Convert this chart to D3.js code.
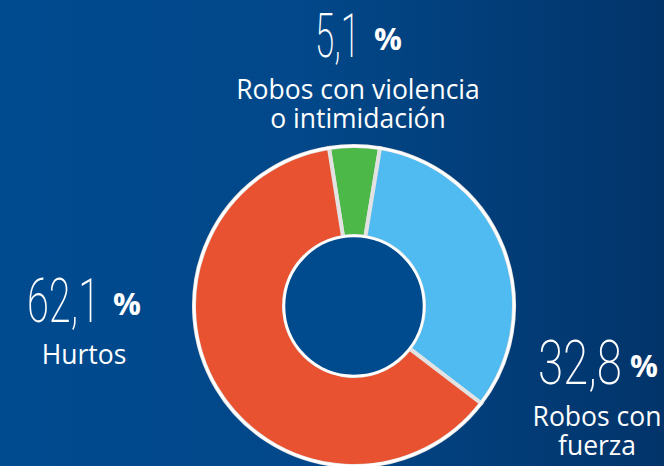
<!DOCTYPE html>
<html>
<head>
<meta charset="utf-8">
<script src="https://cdn.jsdelivr.net/npm/d3@7"></script>
<style>
  html, body { margin: 0; padding: 0; background: #02417f; }
  svg { display: block; }
</style>
</head>
<body>
<div id="chart"></div>
<script>
// data, in drawing order (clockwise from top)
var categories = ["Robos con violencia o intimidación", "Robos con fuerza", "Hurtos"];
var shares = [5.1, 32.8, 62.1];
var shareLabels = ["5,1", "32,8", "62,1"];
var labelLines = [["Robos con violencia", "o intimidación"], ["Robos con", "fuerza"], ["Hurtos"]];
var colors = ["#4cb848", "#50bbf1", "#e85230"];

var width = 664, height = 466;
var cx = 354, cy = 306, outerR = 160, innerR = 70;

var svg = d3.select("#chart").append("svg")
    .attr("width", width)
    .attr("height", height);

// background gradient
var grad = svg.append("defs").append("linearGradient")
    .attr("id", "bg")
    .attr("x1", "0%").attr("x2", "100%")
    .attr("y1", "0%").attr("y2", "0%");
grad.append("stop").attr("offset", "0%").attr("stop-color", "#004a8f");
grad.append("stop").attr("offset", "45%").attr("stop-color", "#02488a");
grad.append("stop").attr("offset", "100%").attr("stop-color", "#02346a");

svg.append("rect")
    .attr("width", width)
    .attr("height", height)
    .attr("fill", "url(#bg)");

var offset = -9 * Math.PI / 180;

var pie = d3.pie()
    .sort(null)
    .value(function(d) { return d; })
    .startAngle(offset)
    .endAngle(offset + 2 * Math.PI);

var arc = d3.arc()
    .innerRadius(innerR)
    .outerRadius(outerR);

var g = svg.append("g")
    .attr("transform", "translate(" + cx + "," + cy + ")");

g.selectAll("path.slice")
    .data(pie(shares))
    .enter().append("path")
    .attr("class", "slice")
    .attr("d", arc)
    .attr("fill", function(d, i) { return colors[i]; })
    .attr("stroke", "#e2e2e2")
    .attr("stroke-width", 4)
    .attr("stroke-linejoin", "miter");

// white rims
g.append("circle")
    .attr("r", outerR)
    .attr("fill", "none")
    .attr("stroke", "#ffffff")
    .attr("stroke-width", 2.5);

g.append("circle")
    .attr("r", innerR)
    .attr("fill", "#004b8e")
    .attr("stroke", "#ffffff")
    .attr("stroke-width", 2.5);

// label placement: number start x, number width, % start x, baseline, text centre, first line baseline
var labelPos = [
  { nx: 315, nw: 45, px: 374, y: 57, tx: 358, lineY: 99 },
  { nx: 538, nw: 84, px: 630, y: 384, tx: 597, lineY: 426 },
  { nx: 27, nw: 73, px: 113, y: 322, tx: 84, lineY: 364 }
];

var labels = svg.selectAll("g.label")
    .data(shares)
    .enter().append("g")
    .attr("class", "label");

// condensed thin numbers: squeeze horizontally to the measured width
labels.append("text")
    .attr("fill", "#ffffff")
    .style("font-family", "Roboto, sans-serif")
    .style("font-size", "62px")
    .style("font-weight", 200)
    .text(function(d, i) { return shareLabels[i]; })
    .attr("transform", function(d, i) {
      var w = this.getComputedTextLength();
      var p = labelPos[i];
      return "translate(" + p.nx + "," + p.y + ") scale(" + (p.nw / w) + ",1)";
    });

labels.append("text")
    .attr("x", function(d, i) { return labelPos[i].px; })
    .attr("y", function(d, i) { return labelPos[i].y - 7; })
    .attr("fill", "#ffffff")
    .style("font-family", "'Open Sans', sans-serif")
    .style("font-size", "31px")
    .style("font-weight", 700)
    .text("%");

labels.each(function(d, i) {
  var sel = d3.select(this);
  labelLines[i].forEach(function(line, j) {
    sel.append("text")
        .attr("x", labelPos[i].tx)
        .attr("y", labelPos[i].lineY + j * 29)
        .attr("text-anchor", "middle")
        .attr("fill", "#ffffff")
        .style("font-family", "'Open Sans', sans-serif")
        .style("font-size", "26.5px")
        .text(line);
  });
});
</script>
</body>
</html>
